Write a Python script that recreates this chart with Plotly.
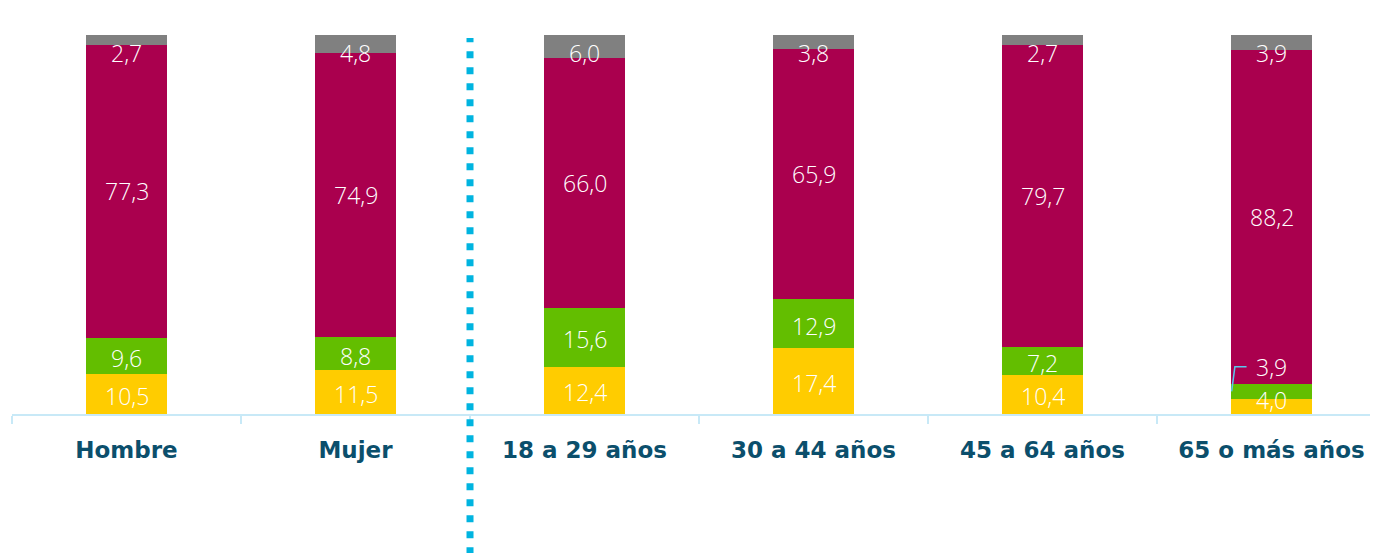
import plotly.graph_objects as go

categories = ["Hombre", "Mujer", "18 a 29 años", "30 a 44 años", "45 a 64 años", "65 o más años"]
serie_amarillo = [10.5, 11.5, 12.4, 17.4, 10.4, 4.0]
serie_verde = [9.6, 8.8, 15.6, 12.9, 7.2, 3.9]
serie_magenta = [77.3, 74.9, 66.0, 65.9, 79.7, 88.2]
serie_gris = [2.7, 4.8, 6.0, 3.8, 2.7, 3.9]

colors = ["#FFCC00", "#63BE00", "#AA004E", "#808080"]
series = [serie_amarillo, serie_verde, serie_magenta, serie_gris]

BAR_W = 0.354
fig = go.Figure()
for vals, col in zip(series, colors):
    fig.add_trace(go.Bar(x=categories, y=vals, marker=dict(color=col, line=dict(width=0)),
                         width=BAR_W, hoverinfo="skip"))

def fmt(v):
    return f"{v:.1f}".replace(".", ",")

lab_font = dict(family="Open Sans, sans-serif", size=23, color="white", weight=300)
annotations = []
shapes = []
for i, cat in enumerate(categories):
    base = 0.0
    for k, vals in enumerate(series):
        v = vals[i]
        if k == 3:
            text_y = 100 - 4.8
        elif k == 2:
            text_y = base + v / 2
        else:
            text_y = base + v / 2 - 0.5
        if i == 5 and k == 0:
            text_y = base + v / 2 + 1.6
        if i == 5 and k == 1:
            text_y = base + v / 2 + 6.5
        annotations.append(dict(x=i, y=text_y, xref="x", yref="y", text=fmt(v), showarrow=False,
                                font=lab_font, xanchor="center", yanchor="middle"))
        base += v

# leader line for the small 65+ green label
i = 5
g_mid = serie_amarillo[i] + serie_verde[i] / 2
g_text = g_mid + 6.5
x_left = i - BAR_W / 2
shapes.append(dict(type="path", xref="x", yref="y",
                   path=f"M {x_left + 0.003} {g_mid} L {x_left + 0.017} {g_text} L {x_left + 0.068} {g_text}",
                   line=dict(color="#5BC8EC", width=1.5)))

# dotted separator
shapes.append(dict(type="line", xref="x", yref="paper", x0=1.5, x1=1.5, y0=-0.37, y1=0.992,
                   line=dict(color="#00B4E0", width=7, dash="7px,9px"), layer="above"))

fig.update_layout(
    width=1378, height=553,
    margin=dict(l=4, r=8, t=27, b=147),
    paper_bgcolor="white", plot_bgcolor="white",
    barmode="stack", showlegend=False,
    annotations=annotations, shapes=shapes,
    xaxis=dict(type="category", range=[-0.5, 5.465],
               tickfont=dict(family="DejaVu Sans, sans-serif", size=23, color="#0B4F6C", weight="bold"),
               showline=True, linecolor="#C8E9F7", linewidth=2,
               ticks="outside", ticklen=8, tickcolor="#C8E9F7", tickwidth=2,
               tickson="boundaries",
               showgrid=False, zeroline=False, ticklabelstandoff=14),
    yaxis=dict(range=[0, 100], visible=False, showgrid=False, zeroline=False),
)

fig.write_html("out.html")
